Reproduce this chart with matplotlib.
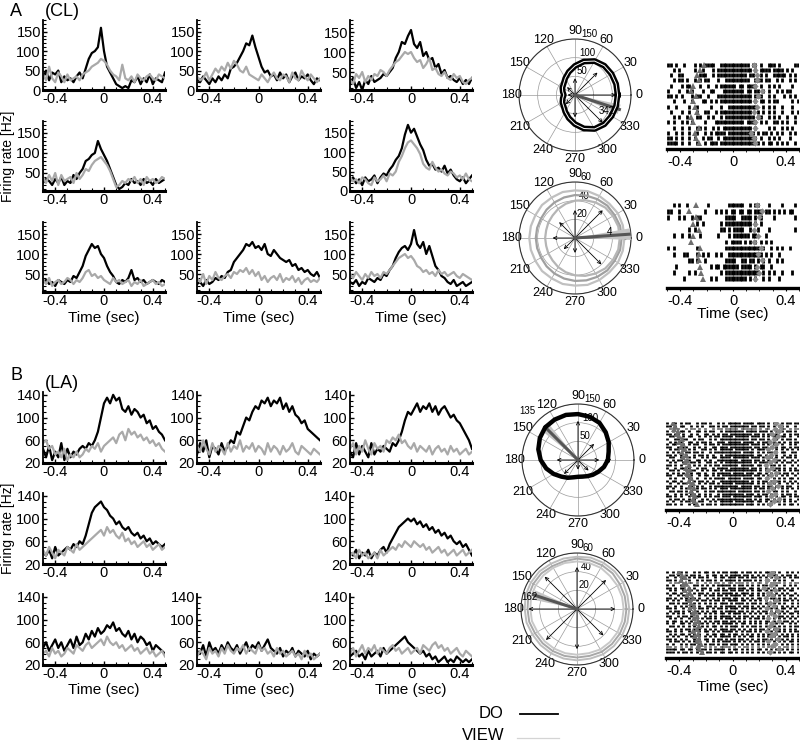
import numpy as np
import matplotlib
matplotlib.use('Agg')
import matplotlib.pyplot as plt
from matplotlib.lines import Line2D
from matplotlib.ticker import MultipleLocator

plt.rcParams['font.family'] = ['Liberation Sans', 'DejaVu Sans']

# ---------------- PSTH data (firing rate, Hz; sampled evenly from -0.5 to 0.5 s) ----------------
A11_DO = [30,50,25,45,40,50,20,35,25,30,20,35,45,30,55,80,95,100,110,160,100,60,45,30,15,10,5,10,5,25,20,35,15,30,20,40,15,30,25,20,45]
A11_VIEW = [40,25,60,30,20,45,35,20,40,25,30,35,25,40,45,50,60,65,70,80,75,65,50,40,35,25,65,30,25,35,20,40,30,25,35,40,30,25,40,35,30]
A12_DO = [30,20,35,25,15,30,20,35,25,40,30,55,60,70,85,100,120,115,140,110,85,60,45,50,35,40,25,45,30,40,20,35,45,25,35,30,40,25,15,30,25]
A12_VIEW = [35,25,30,45,25,40,55,45,60,50,70,55,75,65,50,45,60,40,35,30,25,40,30,20,35,45,30,25,40,35,20,45,30,25,50,35,25,40,30,20,30]
A13_DO = [20,35,10,25,5,30,20,40,25,30,35,45,40,50,60,85,100,125,120,140,155,120,110,125,90,100,80,85,60,70,45,55,35,40,30,25,35,20,30,20,35]
A13_VIEW = [30,20,45,35,50,25,40,30,45,40,55,50,40,55,65,75,80,90,100,95,100,85,75,80,60,70,85,55,60,45,40,50,35,30,45,35,40,25,20,30,35]
A21_DO = [25,35,30,20,35,25,40,20,30,25,45,35,50,60,80,85,95,100,130,110,95,80,60,40,20,10,15,25,20,35,25,30,20,35,25,30,20,35,25,30,35]
A21_VIEW = [40,25,45,30,50,20,45,30,35,40,25,50,35,45,60,55,70,80,85,90,80,70,55,35,15,20,30,25,35,30,40,25,35,20,40,30,35,25,30,40,35]
A23_DO = [25,35,20,30,15,35,25,30,40,20,35,45,40,55,65,80,90,110,145,170,150,160,140,120,105,80,65,70,55,60,50,65,45,55,40,30,25,35,20,30,40]
A23_VIEW = [35,25,30,20,35,30,20,15,35,25,30,40,25,45,40,50,75,90,110,125,130,120,110,95,70,60,55,75,60,50,55,45,40,50,45,35,40,30,45,30,25]
A31_DO = [30,35,25,30,20,35,30,25,35,30,45,40,55,70,95,110,125,115,120,100,90,70,55,45,30,25,35,30,40,60,35,40,30,35,25,30,35,30,25,35,30]
A31_VIEW = [35,25,40,20,30,35,25,30,40,35,25,35,30,40,55,60,45,50,40,45,35,30,25,40,30,35,25,30,35,20,30,25,35,20,25,30,35,25,30,20,25]
A32_DO = [25,30,20,35,25,30,40,35,45,40,55,60,80,90,100,110,125,120,130,115,120,110,125,100,95,110,100,90,85,80,85,70,75,60,65,55,60,50,45,55,40]
A32_VIEW = [40,30,50,25,45,35,55,40,35,45,50,40,55,50,60,55,65,50,60,45,55,35,45,30,40,45,35,50,30,40,35,45,30,40,25,35,40,30,35,30,40]
A33_DO = [30,25,35,20,30,25,40,35,30,40,35,50,45,60,70,90,105,115,120,110,125,160,125,115,130,100,120,95,70,60,45,40,30,25,35,20,25,30,20,25,30]
A33_VIEW = [50,40,55,45,35,50,40,55,45,50,40,55,50,60,70,80,90,95,100,90,95,85,70,65,55,60,50,55,45,60,50,55,45,50,55,45,40,50,45,40,35]

B11_DO = [45,30,50,25,40,30,55,25,45,30,40,35,45,50,45,55,50,60,75,100,125,135,125,140,130,135,115,110,120,105,115,110,100,105,90,95,80,85,75,70,60]
B11_VIEW = [55,60,45,50,35,40,30,45,25,35,30,40,30,35,45,40,50,45,55,40,50,55,60,65,55,70,75,60,80,70,75,65,70,60,65,55,60,50,55,45,40]
B12_DO = [35,55,40,60,30,50,45,35,55,40,50,60,55,75,70,85,100,95,110,120,115,130,125,135,120,130,125,135,115,125,110,120,105,100,90,95,80,75,70,65,60]
B12_VIEW = [50,40,60,45,35,55,40,50,45,35,55,40,50,45,60,40,50,45,55,40,50,45,35,55,40,50,45,35,50,40,45,55,40,35,50,45,40,35,45,40,35]
B13_DO = [40,30,55,35,50,40,30,55,35,45,40,50,45,40,55,50,60,75,95,110,105,115,125,110,120,115,125,110,120,105,115,120,110,100,105,95,90,80,70,60,45]
B13_VIEW = [45,55,35,50,40,60,45,35,55,45,50,40,60,55,65,60,70,55,60,50,45,55,40,50,45,40,50,35,45,50,40,45,35,50,40,45,35,40,45,35,40]
B21_DO = [40,35,45,30,50,35,40,45,50,45,55,50,60,55,70,90,110,120,125,130,120,115,105,100,90,95,85,80,85,75,70,75,65,70,60,65,55,60,55,50,55]
B21_VIEW = [45,35,50,40,30,45,40,35,50,45,40,55,45,50,55,60,65,70,75,80,70,85,75,80,70,65,75,60,65,55,60,50,55,60,50,55,45,50,55,45,50]
B23_DO = [40,35,45,30,40,35,45,30,40,35,45,50,40,55,65,75,85,90,95,100,95,100,90,95,85,90,80,85,75,80,70,75,65,70,60,55,60,50,55,45,35]
B23_VIEW = [35,40,30,45,35,40,30,35,40,30,45,35,40,45,50,45,55,50,60,55,50,60,55,50,55,45,50,40,45,50,40,45,35,40,45,35,40,45,35,40,45]
B31_DO = [50,60,45,55,65,50,60,45,55,65,50,70,55,60,75,65,80,70,85,75,80,90,85,95,80,85,75,70,80,65,75,60,70,65,55,60,45,55,50,45,40]
B31_VIEW = [40,45,35,50,40,45,35,40,50,45,40,55,50,45,55,60,50,55,60,65,55,70,60,55,60,50,55,45,50,55,45,50,40,45,50,40,45,35,40,45,35]
B32_DO = [45,40,55,35,60,45,50,40,55,45,60,50,45,55,40,50,60,45,55,50,60,45,55,65,50,45,40,50,35,45,40,50,35,45,40,35,45,30,40,35,40]
B32_VIEW = [35,45,40,30,50,40,45,35,50,40,55,45,40,50,45,55,40,50,45,40,55,45,50,40,45,35,50,40,45,35,40,45,35,40,30,45,35,40,30,35,40]
B33_DO = [35,40,45,35,40,30,45,35,40,45,35,50,40,45,50,55,60,65,70,60,55,50,45,40,45,35,40,30,35,25,30,35,25,30,25,35,30,25,30,25,30]
B33_VIEW = [40,50,35,45,55,40,50,45,55,40,50,45,40,50,55,45,50,40,45,50,40,45,50,40,55,50,45,55,60,50,55,45,50,40,45,50,40,35,45,40,35]

XTICKS = [-0.4, 0, 0.4]
XTICKLABELS = ['-0.4', '0', '0.4']
A_YTICKS = [0, 50, 100, 150]
B_YTICKS = [20, 60, 100, 140]

# ---------------- polar data ----------------
ANG24 = [0,15,30,45,60,75,90,105,120,135,150,165,180,195,210,225,240,255,270,285,300,315,330,345]
ANG8 = [0,45,90,135,180,225,270,315]
THETA_LABELS = ['0','30','60','90','120','150','180','210','240','270','300','330']
POLAR_A1_DO = [114,114,113,111,105,93,78,64,52,43,39,34,30,34,39,43,52,64,78,93,105,111,113,114]
POLAR_A1_ARROWS = [110,85,45,30,20,35,60,105]
POLAR_A1_MEAN = (342, 125)
POLAR_A2_VIEW1 = [50,50,49,49,48,47,46,45,44,43,42,42,42,42,42,43,44,45,46,47,48,49,49,50]
POLAR_A2_VIEW2 = [48,48,47,46,44,42,40,38,36,34,33,32,32,32,33,34,36,38,40,42,44,46,47,48]
POLAR_A2_VIEW3 = [53,53,53,52,52,52,51,51,50,50,49,49,49,49,49,50,50,51,51,52,52,52,53,53]
POLAR_A2_ARROWS = [58,42,30,24,24,17,16,40]
POLAR_A2_MEAN = (4, 60)
POLAR_B1_DO = [80,85,95,105,115,120,123,125,125,124,118,110,100,88,75,63,55,48,45,46,50,56,63,72]
POLAR_B1_ARROWS = [57,61,105,110,57,53,26,40]
POLAR_B1_MEAN = (135, 125)
POLAR_B2_VIEW1 = [56,56,57,57,57,57,56,56,56,57,57,57,56,56,55,55,55,55,55,55,56,56,56,56]
POLAR_B2_VIEW2 = [53,53,53,54,54,54,54,53,53,54,54,54,53,53,52,52,52,52,52,52,53,53,53,53]
POLAR_B2_VIEW3 = [50,50,50,50,51,51,51,51,51,51,51,51,50,50,49,49,49,49,49,49,50,50,50,50]
POLAR_B2_ARROWS = [41,44,45,49,52,47,43,40]
POLAR_B2_MEAN = (162, 49)

# ---------------- raster data (one string per trial; '1' = spike in that time bin) ----------------
RASTER_A1 = [
"11.1..1...1.1.1111..11111111111.11.1..111.1.....11",
"..1.1.....1..1...1.1111111111111.1.1111.1111.1.1..",
".1..11......111..1.11111111111.11..1.1..11111.1.1.",
"..1.11.1..1.1.11...1..111111111..111.11..1.1..1.1.",
".1...1.11...1..1..1.111111.11.1111.1..1.1.1....1..",
"1...1..1.1...1..11...11111111.11.11.1.1..1.1.11...",
"11.1.1...1.11..1...1111111111111.111..1.1...1.1.1.",
"..1...1..1...11.1.1.111111111111.1.11.1.11.....1.1",
"1..1....1..1....1...1..11111111111..1.1.1..1...1..",
".1...1..1..1..11..1.111111111111..1.1.1.1..1...1.1",
"..1.1..1...11..1.1..1.11111111111.11..1.1.1..1..1.",
"1.1..1.1.1....1...11111111111.1111.1.1..11.1.1..1.",
"..1..1..1..11.1..1.1.11111111111.1....1.1..1.1.1..",
"1..1.1..1..1..1.1.1111.1111111111.1.11.1.1.1..1.1.",
"11.1.1..1.1..1.11..1.1111111111111.1..1.1.1...1...",
"1111.1..1..1..1.111.1111111111111.1.1.11.1.1.1..1.",
]
RASTER_A1_TRI = [-0.22,-0.25,-0.27,-0.26,-0.30,-0.32,-0.28,-0.30,-0.29,-0.27,-0.32,-0.30,-0.26,-0.29,-0.28,-0.26]
RASTER_A1_DIA = [0.16,0.17,0.18,0.18,0.17,0.22,0.19,0.17,0.18,0.16,0.19,0.17,0.17,0.14,0.16,0.17]
RASTER_A2 = [
"..1.1..1.......1.......111111..1.11...1....1....1.",
"11..1.........1...1.1.1.11.11.11.111.11.1.1.1.11..",
"1...1.1..1.11.........1111..1111.1.1....1.......1.",
"...........1.1......1.1111111111.1.1..............",
"........1.1.........11.1.1111..1..1...1.........1.",
"..1..1..1...1......1...1.111111.11...1............",
"......................1.1111.1.1.1.1.1.1..........",
"1.1........1..........1111111111111.1..1.1.1..1...",
"..1...11...1.1.1..1.1..1111111111111.1.1..1.......",
"........11.1..1.......1111..11.11.1.1.1..1.1......",
"...1............1.11.111111.1111.1.11..1..........",
"..1.....1.1.........1.1111111111111.1.1.1..1...1..",
"......1.........1.1...11111111.1.1..1.1...1.......",
]
RASTER_A2_TRI = [-0.28,-0.33,-0.28,-0.30,-0.26,-0.30,-0.32,-0.25,-0.26,-0.26,-0.25,-0.24,-0.23]
RASTER_A2_DIA = [0.18,0.22,0.20,0.17,0.16,0.19,0.16,0.21,0.19,0.22,0.18,0.20,0.17]
RASTER_B1 = [
"1.11.1.11..1.11.1..1.1.11111.1111.111.1.11.1.11.11",
"11.1.11..1.1.1..11.1.11.1111111.11.11.1.1.11.1..1.",
".1.11..1.11.1.1..1.11.11111.111111.1.11..1.11.1.11",
"1.1..11.1..11.1.11..1.1111111.1111.111.1.1.1.11.1.",
"11.11.1..1.1..11.1.1.11.11111111.11.1.11.1..1.1.11",
".11.1.1.11..1.1.1.11.1111.11111.111.1.1.11.11.1..1",
"1..11.11..1.11..1.1.11111111111.11.11.1..1.1.11.1.",
".1.1.1..11.1.11.1..111.11111.1111.1.111.1.1.1.1.11",
"1.11..1.1.11..1.11.1.1111111111.111.1.1.11.1..1.1.",
"11..1.11..1.1.1..11.111.11111111.11.11.1.1.11.1.11",
".1.11.1.1.1..11.1.1.11111.11111.1.111.1..1.1.1.1.1",
"1.1.1..11.11.1..1.1111111111.1111.1.1.11.1.11..11.",
"11.1.1.1..1.11.1.1..1.11111111111.11.1.1.1..1.1.1.",
".11..11.1.1..1.1.11.1111.111111.111.1.11.1.1.11.1.",
"1.1.11..1..11.1.1..11111111.1111.11.1.1..11.1..1.1",
".1.1..11.11.1..11.1.1.1111111111.1.111.1.1.1.11.1.",
"11.1.1..1.1.1.1.1.11.111111.11111.11.1.11.1.1..1.1",
"1..1.11.1..1.11..1.1111.1111111.11.1.1.1.11.1.1.1.",
".11.1..1.11..1.1.11.1.111111111111.1.11.1.1.1.1.11",
"1.1.1.1..1.11.1..1.11111.1111.111.11.1.1..1.11.1.1",
"11..11.1.1..1.11.1.1.11111111111.11.1.11.1.1.1..1.",
".1.1..1.11.1..1.1.1111.11111.1111.11.1..1.1.1.11.1",
"1.11.1..1.1.11.1.1..11111111111.1.1.11.1.11.1.1.1.",
".1..1.11.1..1.1.11.1.1111.1111111.1.1.1.1.1..1.1.1",
"11.1.1..11.1.1..1.111111111.1111.11.1.11.1.1.11..1",
"1.1..1.11..1.11.1.1.111.11111111.1.11.1.1..1.1.1.1",
".11.11.1.1.1..1.11.1111111.11111.11.1.1.11.1.1..1.",
"1..1.1.1.11.1.1.1..1.11111111.111.1.11.1.1.1.11.1.",
"11.1.1..1..11.1.1.11.111.1111111.111.1.1.1.11.1.11",
".1.11.1.1.1..1.1.1.1111111111.11.1.1.11.1.1.1.1..1",
"1.1..1.11.1.11..1.1.11111.1111111.11.1.1.11.1.1.1.",
"11.1.1..1.1..1.11.1.111111111.111.1.1.11..1.1.11.1",
]
RASTER_B1_TRI = [-0.45,-0.43,-0.44,-0.41,-0.42,-0.40,-0.38,-0.40,-0.37,-0.39,-0.36,-0.38,-0.35,-0.37,-0.34,-0.36,-0.33,-0.35,-0.32,-0.34,-0.33,-0.31,-0.33,-0.30,-0.32,-0.29,-0.31,-0.30,-0.28,-0.30,-0.29,-0.27]
RASTER_B1_DIA = [0.33,0.36,0.32,0.35,0.30,0.34,0.31,0.28,0.33,0.30,0.27,0.32,0.29,0.26,0.31,0.28,0.25,0.30,0.27,0.33,0.29,0.26,0.31,0.28,0.34,0.30,0.27,0.32,0.29,0.35,0.31,0.28]
RASTER_B2 = [
"1.1.11.1..1.1.11.1.1.11.111.1.11.1.1.11.1.1..1.1.1",
".11.1..1.11.1..1.11.1.1.1111.11.1.1.1.1.11.1.11.1.",
"1..1.11.1.1.11.1..1.11.111.11.1.11.1.1.1..1.1.1.11",
"11.1.1..1..1.1.11.1.1.1111.1.111.1.1.11.1.1.1..1..",
".1.11.1.11.1..1.1.11.1.11.111.1.1.11.1.1.11.1.1.11",
"1.1..1.1..11.1.1.1.11111.1.11.1.1.1.11.1.1..1.1.1.",
"11.1.11.1.1..11.1..1.1.111.111.11.1.1.1.1.11.1.1.1",
".1.1..1.11.1.1..1.11.11.11.11.1.1.11.1.1..1.1.11..",
"1.11.1..1.1.11.1.1.1.1111.1.111.1.1.1.11.1.1.1..1.",
".1..1.11.1..1.1.11.11.1.1111.1.11.1.1.1.1.1.1.11.1",
"11.1.1.1.11.1..1.1.1.111.11.1.1.1.11.1.11.1.1.1.1.",
"1.1.1..1.1.1.11.1.11.1.1111.11.1.1.1.1..1.1.11.1.1",
".11.1.11..1.1.1.1.1.111.1.111.1.11.1.11.1.1.1..1.1",
"1..1.1.1.11.1..11.1.1.1111.1.11.1.1.1.1.11.1.1.1.1",
"11.1..1.1.1.11.1.1.11.1.111.1.1.11.1.1.1.1.11.1.1.",
".1.11.1.1..1.1.1.11.1.1111.11.1.1.1.11.1.1.1.1..11",
"1.1.1.1..11.1.1.1.1.11.1.111.1.1.1.1.1.11.1.1.11.1",
"11..1.11.1.1..1.1.1.1111.1.1.11.1.1.1.1.1.11.1.1.1",
".1.1.1..1.11.1.11.1.1.111.11.1.1.11.1.1.1.1.1.1.1.",
"1.11.1.1.1..1.1.1.11.11.11.1.1.1.1.1.11.1.1.11.1.1",
"1.1..11.1.1.11.1.1.1.1111.1.11.1.1.1.1.1.1.1..1.1.",
".11.1.1.1.1..1.1.11.1.1.111.1.1.11.1.1.11.1.1.1.11",
"1..1.1.11.1.1.1.1.1.111.11.1.1.1.1.11.1.1.1.1.1.1.",
"11.1.1..1.1.1.11.1.1.1111.1.1.11.1.1.1.1.11.1.1.11",
".1.1.11.1.1.1..1.11.11.1.11.1.1.1.1.1.11.1.1.1.1.1",
"1.1.1..1.11.1.1.1.1.1111.1.1.1.11.1.1.1.1.1.11.1.1",
"11.1.1.1..1.1.11.1.11.1.11.11.1.1.1.11.1.1.1.1.1.1",
".1.11.1.1.1.1..1.1.1.111.1.1.1.1.11.1.1.1.1.1.11.1",
"1.1..1.1.11.1.1.11.1.11.111.1.1.1.1.1.1.11.1.1.1.1",
"11.1.1.1.1..1.1.1.1.1111.1.1.11.1.1.1.1.1.1.11.1.1",
"1111.11.11.1.11.1.1111.1.11.1.1.1.11.1.1.1.1.1.1.1",
"111.1.11.1.1.1.11.1.11.11.1.1.1.1.1.1.1.1.1.1.11.1",
]
RASTER_B2_TRI = [-0.40,-0.38,-0.36,-0.39,-0.35,-0.37,-0.33,-0.36,-0.32,-0.34,-0.30,-0.33,-0.31,-0.29,-0.32,-0.28,-0.30,-0.27,-0.29,-0.26,-0.28,-0.25,-0.27,-0.30,-0.26,-0.28,-0.25,-0.27,-0.24,-0.26,-0.25,-0.23]
RASTER_B2_DIA = [0.30,0.28,0.33,0.26,0.31,0.29,0.24,0.32,0.27,0.30,0.25,0.33,0.28,0.31,0.26,0.34,0.29,0.32,0.27,0.35,0.30,0.28,0.33,0.26,0.31,0.29,0.34,0.27,0.32,0.30,0.35,0.28]

# ---------------- figure ----------------
W, H = 800, 750
fig = plt.figure(figsize=(8, 7.5), dpi=100)

def add_px(l, t, r, b, **kw):
    return fig.add_axes([l / W, 1 - b / H, (r - l) / W, (b - t) / H], **kw)

BLACK = '#000000'
GREY = '#a9a9a9'

def psth(l, t, r, b, do, view, ylim, yticks, ytick_min):
    ax = add_px(l, t, r, b)
    ax.plot(np.linspace(-0.5, 0.5, len(do)), do, color=BLACK, lw=1.6)
    ax.plot(np.linspace(-0.5, 0.5, len(view)), view, color=GREY, lw=1.6)
    ax.set_xlim(-0.5, 0.5)
    ax.set_ylim(*ylim)
    ax.set_xticks(XTICKS)
    ax.set_xticklabels(XTICKLABELS)
    ax.set_yticks([v for v in yticks if v >= ytick_min])
    ax.xaxis.set_minor_locator(MultipleLocator(0.1))
    ax.yaxis.set_minor_locator(MultipleLocator(10))
    for s in ('top', 'right'):
        ax.spines[s].set_visible(False)
    ax.spines['left'].set_linewidth(1.3)
    ax.spines['bottom'].set_linewidth(2.2)
    ax.tick_params(which='both', direction='in', labelsize=10.5, pad=1.5)
    ax.tick_params(which='major', length=3, width=1)
    ax.tick_params(which='minor', length=2, width=0.8)
    return ax

COLS = [(43, 165), (197, 320), (350, 472)]
A_ROWS = [(20, 90), (121, 191), (222, 292)]
B_ROWS = [(392, 463), (493, 564), (594, 665)]

A_PANELS = [
    (0, 0, A11_DO, A11_VIEW, 0), (0, 1, A12_DO, A12_VIEW, 0), (0, 2, A13_DO, A13_VIEW, 5),
    (1, 0, A21_DO, A21_VIEW, 5), (1, 2, A23_DO, A23_VIEW, 0),
    (2, 0, A31_DO, A31_VIEW, 5), (2, 1, A32_DO, A32_VIEW, 5), (2, 2, A33_DO, A33_VIEW, 5),
]
for ri, ci, do, view, y0 in A_PANELS:
    (t, b), (l, r) = A_ROWS[ri], COLS[ci]
    psth(l, t, r, b, do, view, (y0, 180), A_YTICKS, 1 if y0 > 0 else 0)

B_PANELS = [
    (0, 0, B11_DO, B11_VIEW), (0, 1, B12_DO, B12_VIEW), (0, 2, B13_DO, B13_VIEW),
    (1, 0, B21_DO, B21_VIEW), (1, 2, B23_DO, B23_VIEW),
    (2, 0, B31_DO, B31_VIEW), (2, 1, B32_DO, B32_VIEW), (2, 2, B33_DO, B33_VIEW),
]
for ri, ci, do, view in B_PANELS:
    (t, b), (l, r) = B_ROWS[ri], COLS[ci]
    psth(l, t, r, b, do, view, (20, 145), B_YTICKS, 20)

# Panel labels and axis titles
fig.text(10 / W, 1 - 12 / H, 'A', fontsize=13, va='center', ha='left')
fig.text(45 / W, 1 - 12 / H, '(CL)', fontsize=13, va='center', ha='left')
fig.text(10 / W, 1 - 375 / H, 'B', fontsize=13, va='center', ha='left')
fig.text(45 / W, 1 - 383 / H, '(LA)', fontsize=13, va='center', ha='left')
fig.text(8 / W, 1 - 156 / H, 'Firing rate [Hz]', rotation=90, fontsize=10, va='center', ha='center')
fig.text(8 / W, 1 - 528 / H, 'Firing rate [Hz]', rotation=90, fontsize=10, va='center', ha='center')
for (l, r) in COLS:
    fig.text((l + r) / 2 / W, 1 - 318 / H, 'Time (sec)', fontsize=11, va='center', ha='center')
    fig.text((l + r) / 2 / W, 1 - 690 / H, 'Time (sec)', fontsize=11, va='center', ha='center')

# ---------------- polar plots ----------------
def polar(cx, cy, rmax, rticks, rlab_angle):
    rad = 56
    ax = add_px(cx - rad, cy - rad, cx + rad, cy + rad, projection='polar')
    ax.set_rlim(0, rmax)
    ax.set_rticks(rticks)
    ax.set_rlabel_position(rlab_angle)
    ax.set_thetagrids(np.arange(0, 360, 30), THETA_LABELS, fontsize=9)
    ax.tick_params(axis='x', pad=-5)
    ax.tick_params(axis='y', labelsize=7, pad=0)
    ax.grid(True, color='#9a9a9a', lw=0.5)
    ax.spines['polar'].set_linewidth(0.8)
    ax.spines['polar'].set_color('#333333')
    return ax

def closed(ang, vals):
    th = np.deg2rad(list(ang) + [ang[0]])
    return th, list(vals) + [vals[0]]

def arrows(ax, vals, color='k'):
    for a, v in zip(ANG8, vals):
        ax.annotate('', xy=(np.deg2rad(a), v), xytext=(0, 0),
                    arrowprops=dict(arrowstyle='->', lw=0.6, color=color, shrinkA=0, shrinkB=0,
                                    mutation_scale=6))

def mean_vec(ax, ang, r, label, label_ang, label_r):
    t = np.deg2rad(ang)
    w = np.deg2rad(6)
    ax.fill([0, t - w, t + w, 0], [0, r, r, 0], color='#c4c4c4', lw=0, zorder=3)
    ax.plot([0, t], [0, r], color='#555555', lw=2.2, zorder=4)
    ax.text(np.deg2rad(label_ang), label_r, label, fontsize=7, ha='center', va='center', zorder=7)

# A1
ax = polar(575, 95, 150, [50, 100, 150], 84)
arrows(ax, POLAR_A1_ARROWS)
mean_vec(ax, *POLAR_A1_MEAN, '342', 334, 96)
th, rr = closed(ANG24, POLAR_A1_DO)
ax.plot(th, rr, color='k', lw=4.2, zorder=5)
ax.plot(th, rr, color='white', lw=0.7, zorder=6)

# A2
ax = polar(575, 238, 60, [20, 40, 60], 84)
for vals, c in ((POLAR_A2_VIEW1, '#a0a0a0'), (POLAR_A2_VIEW2, '#b5b5b5'), (POLAR_A2_VIEW3, '#c0c0c0')):
    th, rr = closed(ANG24, vals)
    ax.plot(th, rr, color=c, lw=1.6, zorder=3)
arrows(ax, POLAR_A2_ARROWS)
mean_vec(ax, *POLAR_A2_MEAN, '4', 10, 38)

# B1
ax = polar(578, 460, 150, [50, 100, 150], 84)
arrows(ax, POLAR_B1_ARROWS)
mean_vec(ax, *POLAR_B1_MEAN, '135', 136, 188)
th, rr = closed(ANG24, POLAR_B1_DO)
ax.plot(th, rr, color='k', lw=3.2, zorder=5)

# B2
ax = polar(577, 609, 60, [20, 40, 60], 84)
for vals, c in ((POLAR_B2_VIEW1, '#bdbdbd'), (POLAR_B2_VIEW2, '#a8a8a8'), (POLAR_B2_VIEW3, '#c8c8c8')):
    th, rr = closed(ANG24, vals)
    ax.plot(th, rr, color=c, lw=1.4, zorder=3)
arrows(ax, POLAR_B2_ARROWS)
mean_vec(ax, *POLAR_B2_MEAN, '162', 166, 53)

# ---------------- rasters ----------------
def raster(l, t, r, b, rows, tri, dia, pad_bottom):
    ax = add_px(l, t, r, b)
    n = len(rows)
    for i, s in enumerate(rows):
        y = n - 1 - i
        m = len(s)
        times = [-0.5 + (j + 0.5) / m for j, c in enumerate(s) if c == '1']
        ax.vlines(times, y - 0.38, y + 0.38, color='k', lw=2.0)
    ys = [n - 1 - i for i in range(n)]
    ax.plot(tri, ys[:len(tri)], '^', color='#6e6e6e', ms=4.5, mew=0, zorder=4)
    ax.plot(dia, ys[:len(dia)], 'D', color='#8a8a8a', ms=3.2, mew=0, zorder=4)
    ax.set_xlim(-0.5, 0.5)
    ax.set_ylim(-0.5 - pad_bottom, n - 0.5)
    ax.set_yticks([])
    ax.set_xticks(XTICKS)
    ax.set_xticklabels(XTICKLABELS)
    ax.xaxis.set_minor_locator(MultipleLocator(0.1))
    for s in ('top', 'right', 'left'):
        ax.spines[s].set_visible(False)
    ax.spines['bottom'].set_linewidth(2.4)
    ax.tick_params(which='both', direction='out', labelsize=10.5, pad=2)
    ax.tick_params(which='major', length=2.5)
    ax.tick_params(which='minor', length=2)
    return ax

raster(667, 62, 799, 149, RASTER_A1, RASTER_A1_TRI, RASTER_A1_DIA, 0.6)
raster(667, 202, 799, 288, RASTER_A2, RASTER_A2_TRI, RASTER_A2_DIA, 1.0)
raster(666, 422, 799, 510, RASTER_B1, RASTER_B1_TRI, RASTER_B1_DIA, 1.8)
raster(666, 571, 799, 658, RASTER_B2, RASTER_B2_TRI, RASTER_B2_DIA, 2.0)
fig.text(733 / W, 1 - 314 / H, 'Time (sec)', fontsize=11, va='center', ha='center')
fig.text(733 / W, 1 - 687 / H, 'Time (sec)', fontsize=11, va='center', ha='center')

# ---------------- legend ----------------
fig.text(503 / W, 1 - 713 / H, 'DO', fontsize=12, ha='right', va='center')
fig.text(505 / W, 1 - 736 / H, 'VIEW', fontsize=12, ha='right', va='center')
fig.add_artist(Line2D([520 / W, 558 / W], [1 - 714 / H] * 2, color='k', lw=1.3))
fig.add_artist(Line2D([517 / W, 559 / W], [1 - 738 / H] * 2, color='#d4d4d4', lw=0.9))

fig.savefig('out.png', dpi=100)
